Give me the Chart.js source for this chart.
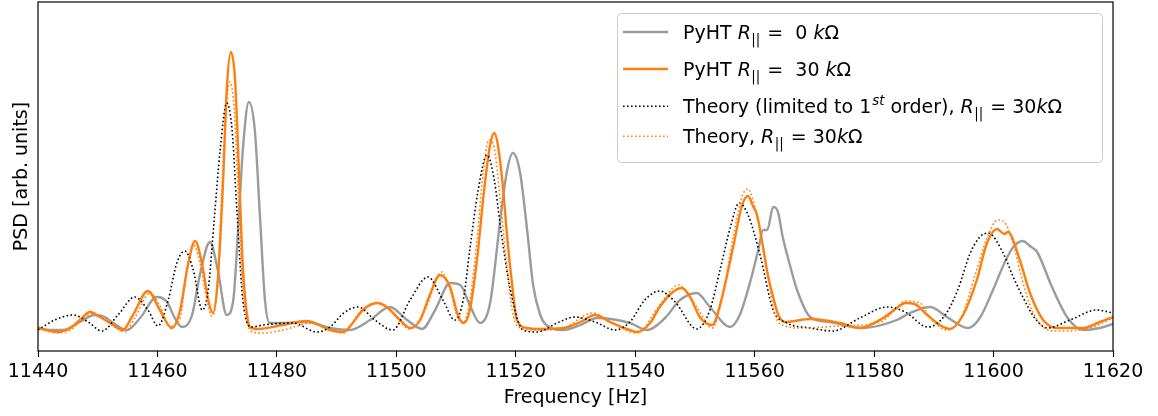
<!DOCTYPE html>
<html><head><meta charset="utf-8">
<script src="https://cdn.jsdelivr.net/npm/chart.js@4"></script>
<style>html,body{margin:0;padding:0;background:#fff;} canvas{display:block;}</style>
</head><body>
<canvas id="c" width="1158" height="416"></canvas>
<script>
const xTicks = [11440, 11460, 11480, 11500, 11520, 11540, 11560, 11580, 11600, 11620];

const freqGray = [11440.0,11442.0,11444.2,11447.0,11449.5,11451.2,11452.6,11454.9,11457.1,11459.9,11461.6,11462.9,11464.1,11465.8,11467.1,11468.8,11470.1,11471.6,11472.7,11473.5,11474.3,11475.3,11476.3,11477.2,11478.0,11478.8,11481.0,11485.0,11488.9,11492.2,11495.6,11498.9,11501.8,11504.3,11506.5,11509.0,11510.7,11512.3,11514.0,11515.7,11517.4,11518.5,11519.5,11520.7,11521.9,11522.9,11524.1,11525.1,11527.9,11530.8,11533.6,11539.1,11542.0,11545.0,11547.5,11550.3,11552.5,11555.9,11557.5,11559.2,11560.6,11561.4,11562.1,11563.1,11563.9,11564.7,11565.9,11567.1,11569.3,11572.6,11578.1,11583.8,11586.0,11589.4,11592.2,11595.7,11597.7,11599.9,11601.9,11603.3,11604.9,11606.1,11607.3,11608.3,11609.5,11612.3,11615.0,11617.8,11620.0];
const psdGray = [0.23,0.21,0.21,0.29,0.36,0.34,0.28,0.21,0.33,0.54,0.49,0.33,0.24,0.36,0.76,1.09,0.81,0.36,0.51,1.21,2.01,2.49,2.21,1.31,0.51,0.28,0.28,0.29,0.23,0.21,0.31,0.44,0.31,0.22,0.41,0.68,0.66,0.46,0.28,0.48,1.31,1.79,1.98,1.79,1.21,0.66,0.36,0.26,0.21,0.26,0.33,0.28,0.21,0.33,0.51,0.58,0.44,0.24,0.36,0.68,1.01,1.21,1.21,1.44,1.39,1.14,0.86,0.61,0.34,0.29,0.23,0.31,0.38,0.44,0.34,0.23,0.33,0.61,0.89,1.04,1.10,1.05,0.99,0.86,0.68,0.34,0.21,0.23,0.27];

const freqOrange = [11440.0,11443.2,11445.4,11447.0,11448.7,11450.4,11452.1,11454.2,11455.9,11458.4,11460.4,11462.4,11463.8,11465.1,11466.3,11467.5,11468.5,11469.3,11470.1,11471.0,11471.6,11472.3,11473.0,11473.7,11474.3,11475.0,11475.5,11476.7,11481.0,11485.0,11488.9,11491.1,11492.7,11494.4,11496.8,11498.4,11500.6,11502.3,11504.0,11505.6,11507.3,11509.0,11510.3,11511.3,11512.3,11513.5,11514.7,11515.7,11516.4,11517.0,11517.9,11518.5,11519.4,11520.2,11521.9,11523.6,11527.9,11530.8,11533.3,11535.8,11539.1,11540.3,11542.5,11544.1,11546.3,11547.8,11549.2,11550.8,11552.9,11554.2,11556.4,11557.9,11558.9,11559.7,11560.4,11561.4,11562.2,11563.1,11563.9,11565.1,11569.3,11574.3,11577.6,11581.5,11583.8,11585.2,11586.8,11588.9,11591.0,11592.7,11594.9,11597.2,11598.9,11600.6,11601.8,11602.4,11604.4,11606.1,11608.3,11610.6,11615.0,11617.8,11620.0];
const psdOrange = [0.23,0.19,0.23,0.31,0.39,0.34,0.28,0.21,0.36,0.60,0.41,0.23,0.41,0.86,1.10,0.86,0.51,0.38,0.71,1.71,2.61,2.99,2.71,1.71,0.84,0.36,0.24,0.22,0.26,0.30,0.21,0.19,0.28,0.41,0.48,0.44,0.31,0.23,0.31,0.56,0.76,0.64,0.36,0.28,0.41,0.91,1.61,2.06,2.18,2.06,1.61,1.18,0.66,0.31,0.23,0.22,0.23,0.29,0.36,0.29,0.21,0.19,0.28,0.44,0.59,0.63,0.54,0.34,0.26,0.46,1.04,1.46,1.55,1.45,1.36,1.04,0.76,0.54,0.37,0.29,0.32,0.28,0.23,0.33,0.43,0.48,0.47,0.36,0.26,0.22,0.36,0.71,1.08,1.22,1.17,1.19,0.91,0.58,0.31,0.23,0.23,0.29,0.34];

const freqTheory1 = [11440.0,11442.8,11445.9,11448.4,11450.7,11453.4,11456.2,11458.4,11460.1,11461.8,11463.3,11464.6,11466.0,11467.5,11468.5,11469.5,11470.5,11471.6,11472.5,11473.3,11474.3,11475.8,11477.7,11482.7,11486.7,11488.9,11491.2,11493.6,11496.4,11499.4,11502.3,11505.3,11507.8,11509.8,11511.2,11512.3,11513.7,11515.2,11516.4,11517.4,11519.0,11521.2,11523.6,11526.9,11529.9,11533.3,11536.6,11539.1,11541.6,11544.1,11546.7,11550.3,11552.5,11554.2,11555.9,11557.4,11558.9,11560.9,11563.1,11565.4,11569.3,11573.1,11577.6,11582.2,11585.2,11589.0,11591.9,11594.0,11596.1,11597.7,11599.1,11601.6,11603.3,11604.9,11606.9,11609.0,11612.8,11617.3,11620.0];
const psdTheory1 = [0.21,0.31,0.36,0.29,0.20,0.36,0.54,0.41,0.25,0.51,0.89,1.00,0.81,0.41,0.61,1.31,2.01,2.48,2.21,1.41,0.51,0.24,0.26,0.28,0.19,0.24,0.38,0.44,0.31,0.21,0.51,0.74,0.51,0.31,0.51,1.01,1.61,1.96,1.71,1.26,0.64,0.21,0.19,0.28,0.34,0.29,0.21,0.29,0.51,0.60,0.49,0.22,0.41,0.81,1.23,1.48,1.36,0.96,0.41,0.28,0.23,0.20,0.33,0.44,0.39,0.24,0.36,0.61,0.98,1.14,1.18,0.98,0.74,0.54,0.33,0.23,0.31,0.41,0.38];

const freqTheory = [11440.0,11443.2,11445.4,11447.0,11449.2,11450.9,11452.6,11454.6,11456.2,11458.8,11460.4,11462.1,11463.8,11464.8,11466.0,11467.1,11468.3,11469.1,11470.0,11470.8,11471.5,11472.1,11472.8,11473.5,11474.2,11475.0,11476.0,11477.7,11481.0,11486.0,11488.9,11491.1,11493.9,11496.8,11498.9,11502.3,11504.8,11507.6,11509.0,11510.3,11511.2,11512.3,11513.5,11514.5,11515.5,11516.4,11517.4,11518.4,11519.4,11520.4,11523.6,11527.9,11532.9,11535.8,11540.3,11544.1,11547.2,11550.3,11552.9,11554.5,11556.4,11557.9,11558.9,11559.7,11560.9,11562.1,11563.4,11565.1,11567.6,11574.3,11581.0,11583.5,11585.2,11587.7,11589.4,11592.2,11594.7,11596.9,11598.9,11600.7,11601.8,11603.1,11604.8,11606.4,11608.3,11610.6,11615.6,11620.0];
const psdTheory = [0.24,0.18,0.21,0.29,0.38,0.33,0.25,0.19,0.33,0.58,0.45,0.25,0.33,0.76,1.06,0.89,0.51,0.35,0.61,1.61,2.41,2.69,2.46,1.61,0.76,0.31,0.19,0.18,0.21,0.28,0.21,0.18,0.39,0.48,0.41,0.22,0.41,0.79,0.61,0.33,0.28,0.51,1.11,1.76,2.11,2.03,1.51,0.91,0.41,0.24,0.21,0.23,0.38,0.29,0.18,0.46,0.66,0.44,0.23,0.51,1.14,1.55,1.62,1.51,1.21,0.81,0.36,0.25,0.23,0.25,0.29,0.41,0.50,0.48,0.33,0.21,0.35,0.76,1.13,1.31,1.29,1.11,0.71,0.41,0.24,0.20,0.22,0.33];

const seriesColors = ['#9c9c9c', '#ff7f0e', '#000000', '#ff7f0e'];

const legendItems = [
  [['PyHT ', 'n'], ['R', 'i'], ['||', 'sub'], [' =  0 ', 'n'], ['k', 'i'], ['Ω', 'n']],
  [['PyHT ', 'n'], ['R', 'i'], ['||', 'sub'], [' =  30 ', 'n'], ['k', 'i'], ['Ω', 'n']],
  [['Theory (limited to 1', 'n'], ['st', 'sup'], [' order), ', 'n'], ['R', 'i'], ['||', 'sub'], [' = 30', 'n'], ['k', 'i'], ['Ω', 'n']],
  [['Theory, ', 'n'], ['R', 'i'], ['||', 'sub'], [' = 30', 'n'], ['k', 'i'], ['Ω', 'n']]
];

const zip = (xs, ys) => xs.map((x, i) => ({x, y: ys[i]}));
const FONT = '"DejaVu Sans", sans-serif';
Chart.defaults.font.family = FONT;
Chart.defaults.color = '#000';

const framePlugin = {
  id: 'frame',
  afterDatasetsDraw(chart) {
    const {ctx, chartArea: a} = chart;
    ctx.save();
    ctx.strokeStyle = '#000';
    ctx.lineWidth = 1.2;
    ctx.strokeRect(a.left, a.top, a.right - a.left, a.bottom - a.top);
    ctx.restore();
  }
};

const legendPlugin = {
  id: 'mplLegend',
  afterDraw(chart) {
    const {ctx, chartArea: a} = chart;
    const bw = 485, bh = 149;
    const bx = a.right - 11 - bw, by = a.top + 11;
    ctx.save();
    ctx.beginPath();
    ctx.roundRect(bx + 0.5, by + 0.5, bw, bh, 4);
    ctx.fillStyle = 'rgba(255,255,255,0.8)';
    ctx.fill();
    ctx.strokeStyle = '#cccccc';
    ctx.lineWidth = 1;
    ctx.stroke();
    const baselines = [26, 63, 100.3, 130.3];
    legendItems.forEach((item, i) => {
      const ds = chart.data.datasets[i];
      const base = by + baselines[i];
      const yc = base - 7;
      ctx.beginPath();
      ctx.strokeStyle = ds.borderColor;
      ctx.lineWidth = ds.borderWidth;
      ctx.setLineDash(ds.borderDash || []);
      ctx.moveTo(bx + 6, yc);
      ctx.lineTo(bx + 51, yc);
      ctx.stroke();
      ctx.setLineDash([]);
      let x = bx + 66;
      ctx.fillStyle = '#000';
      ctx.textBaseline = 'alphabetic';
      ctx.textAlign = 'left';
      for (const [t, s] of item) {
        let dy = 0;
        if (s === 'n') ctx.font = '19px ' + FONT;
        else if (s === 'i') ctx.font = 'italic 19px ' + FONT;
        else if (s === 'sub') { ctx.font = '13.3px ' + FONT; dy = 5; x += 0.5; }
        else if (s === 'sup') { ctx.font = 'italic 13.3px ' + FONT; dy = -8; x += 1; }
        ctx.fillText(t, x, base + dy);
        x += ctx.measureText(t).width;
        if (s === 'sub') x += 1;
      }
    });
    ctx.restore();
  }
};

new Chart(document.getElementById('c'), {
  type: 'line',
  data: {
    datasets: [
      {label: 'PyHT R|| = 0 kΩ', data: zip(freqGray, psdGray), borderColor: seriesColors[0], borderWidth: 2.4, order: 4},
      {label: 'PyHT R|| = 30 kΩ', data: zip(freqOrange, psdOrange), borderColor: seriesColors[1], borderWidth: 2.4, order: 3},
      {label: 'Theory (limited to 1st order), R|| = 30kΩ', data: zip(freqTheory1, psdTheory1), borderColor: seriesColors[2], borderWidth: 1.6, borderDash: [1.6, 2.4], order: 2},
      {label: 'Theory, R|| = 30kΩ', data: zip(freqTheory, psdTheory), borderColor: seriesColors[3], borderWidth: 1.6, borderDash: [1.6, 2.4], order: 1}
    ]
  },
  options: {
    responsive: false,
    animation: false,
    devicePixelRatio: 1,
    layout: {padding: {left: 0, right: 45, top: 2, bottom: 0}},
    elements: {point: {radius: 0}, line: {cubicInterpolationMode: 'monotone', borderCapStyle: 'butt'}},
    plugins: {legend: {display: false}, tooltip: {enabled: false}},
    scales: {
      x: {
        type: 'linear', min: 11440, max: 11620,
        afterBuildTicks: s => { s.ticks = xTicks.map(v => ({value: v})); },
        ticks: {font: {size: 19}, color: '#000', padding: 4, maxRotation: 0, autoSkip: false, callback: v => String(v)},
        grid: {display: true, drawOnChartArea: false, drawTicks: true, tickLength: 6, tickColor: '#000', tickWidth: 1.1},
        border: {display: false},
        title: {display: true, text: 'Frequency [Hz]', font: {size: 19}, color: '#000', padding: {top: 0, bottom: 6.6}},
        afterFit: s => { s.height = 65; }
      },
      y: {
        min: 0, max: 3.49,
        ticks: {display: false},
        grid: {display: false},
        border: {display: false},
        title: {display: true, text: 'PSD [arb. units]', font: {size: 19}, color: '#000', padding: {top: 10.6, bottom: 0}},
        afterFit: s => { s.width = 38; }
      }
    }
  },
  plugins: [framePlugin, legendPlugin]
});
</script>
</body></html>
